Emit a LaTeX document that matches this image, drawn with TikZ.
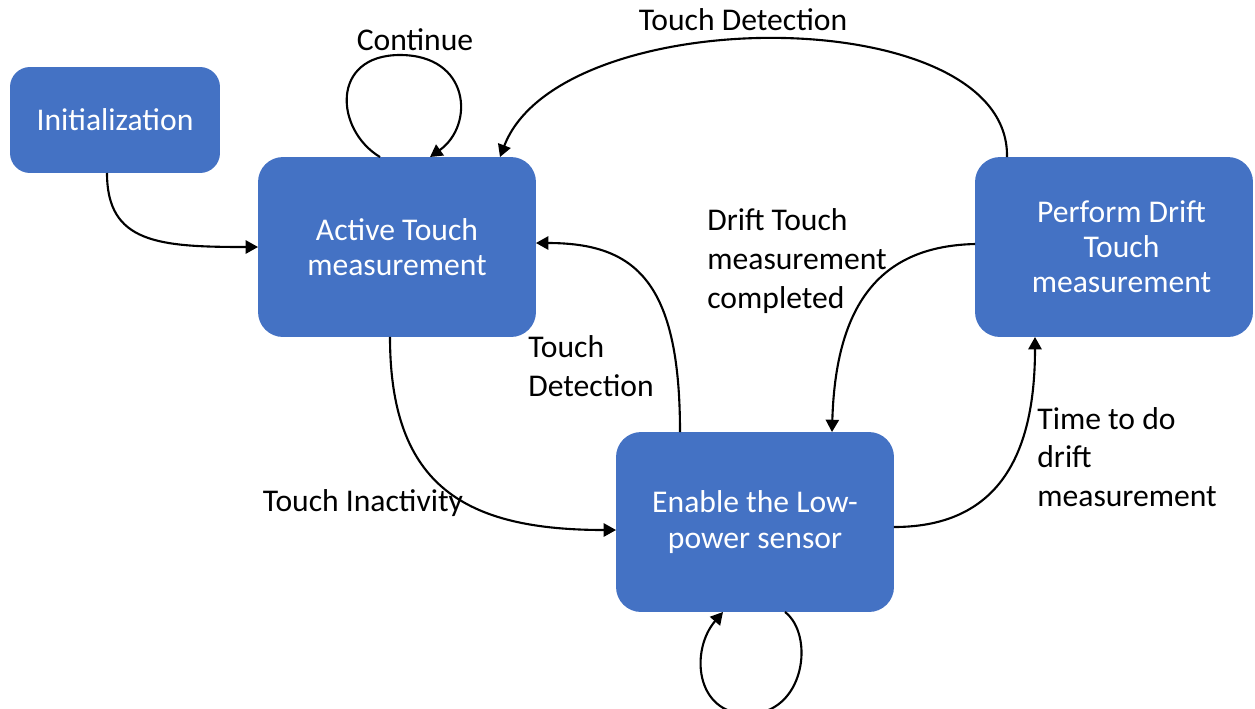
\documentclass[tikz,border=0pt]{standalone}
\usepackage{fontspec}
\setmainfont{Carlito}
\usetikzlibrary{arrows.meta,calc}
\definecolor{boxblue}{HTML}{4472C4}

\begin{document}
\begin{tikzpicture}[x=0.02cm,y=-0.02cm,
	box/.style={fill=boxblue,rounded corners=0.5cm,text=white,align=center,inner sep=0,outer sep=0,minimum width=5.56cm,minimum height=3.6cm,font=\fontsize{18}{20}\selectfont},
	lbl/.style={align=left,inner sep=0,font=\fontsize{18}{22}\selectfont},
	edge/.style={line width=1.2pt,-{Triangle[length=7pt,width=7.5pt]}}]
	\useasboundingbox (0,0) rectangle (1255,708);
	\node[box,minimum width=4.2cm,minimum height=2.12cm,rounded corners=0.4cm] (init) at (115,120) {Initialization};
	\node[box] (active) at (397,247) {Active Touch\\measurement};
	\node[box] (enable) at (755,522) {Enable the Low-\\power sensor};
	\node[box] (drift) at (1114,247) {\hspace*{0.3cm}Perform Drift\\\hspace*{0.3cm}Touch\\\hspace*{0.3cm}measurement};
	% labels
	\node[lbl] (l1) at (415,40) {Continue};
	\node[lbl] (l2) at (743,20) {Touch Detection};
	\node[lbl] (l3) at (363,503) {Touch Inactivity};
	\node[lbl,anchor=west] (l4) at (528,366) {Touch\\Detection};
	\node[lbl,anchor=west] (l5) at (707,261) {Drift Touch\\measurement\\completed};
	\node[lbl,anchor=west] (l6) at (1037,457) {Time to do\\drift\\measurement};
	% transitions
	\draw[edge] ($(init.south)+(-8,0)$) .. controls +(0,70) and +(-100,0) .. (active.west);
	\draw[edge] ($(active.north)+(-17,0)$) .. controls (335,130) and (330,55) .. (400,55) .. controls (470,55) and (475,125) .. ($(active.north)+(33,0)$);
	\draw[edge] ($(drift.north)+(-107,0)$) .. controls (1010,0) and (560,0) .. ($(active.north)+(103,0)$);
	\draw[edge] ($(active.south)+(-7,0)$) .. controls +(0,150) and +(-150,0) .. ($(enable.west)+(0,8)$);
	\draw[edge] ($(enable.north)+(-75,0)$) .. controls +(0,-150) and +(100,0) .. ($(active.east)+(0,-4)$);
	\draw[edge] ($(drift.west)+(0,-3)$) .. controls +(-85,2) and +(4,-140) .. ($(enable.north)+(77,0)$);
	\draw[edge] ($(enable.east)+(0,5)$) .. controls +(110,0) and +(0,110) .. ($(drift.south)+(-79,0)$);
	\draw[edge] ($(enable.south)+(30,0)$) .. controls (815,635) and (805,714) .. (748,714) .. controls (695,714) and (690,650) .. ($(enable.south)+(-32,0)$);
\end{tikzpicture}
\end{document}
